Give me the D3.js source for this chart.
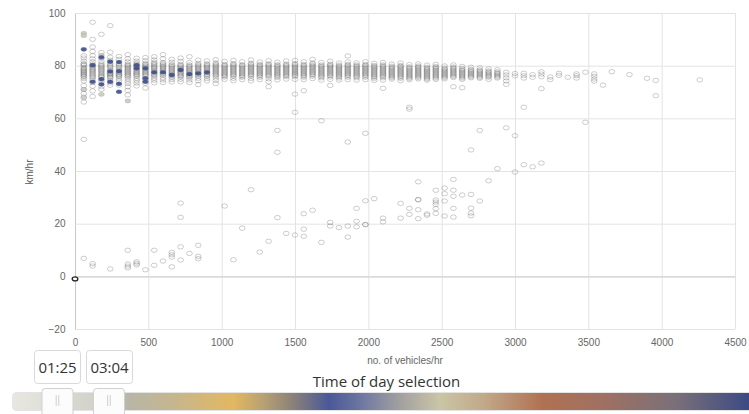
<!DOCTYPE html>
<html>
<head>
<meta charset="utf-8">
<script src="https://cdn.jsdelivr.net/npm/d3@7/dist/d3.min.js"></script>
<style>
  body { margin: 0; background: #fff; }
  svg text { font-family: "Liberation Sans", Arial, sans-serif; }
  .ui { font-family: "Open Sans", "Noto Sans", sans-serif; }
</style>
</head>
<body>
<svg id="chart" width="749" height="414"></svg>
<script>
// DATA: flow (vehicles/hr) columns and the speeds (km/hr) read for each
var bandFlow = [60, 120, 180, 240, 300, 360, 420, 480, 540, 600, 660, 720, 780, 840, 900,
  960, 1020, 1080, 1140, 1200, 1260, 1320, 1380, 1440, 1500, 1560, 1620, 1680, 1740, 1800,
  1860, 1920, 1980, 2040, 2100, 2160, 2220, 2280, 2340, 2400, 2460, 2520, 2580, 2640, 2700,
  2760, 2820, 2880, 2940, 3000, 3060, 3120, 3180, 3240, 3300, 3360, 3420, 3480, 3540, 3600,
  3660, 3780, 3900, 3960, 4260];

var bandSpeeds = [
  [83.8, 82.9, 81.7, 80.8, 80.1, 79.4, 78.6, 77.9, 77.2, 76.5, 75.8, 75.1, 74.2, 72.4, 70.9, 69.4, 67.8, 66.2, 52.0, 6.8],
  [96.5, 90.0, 87.1, 85.4, 83.8, 82.6, 81.5, 80.6, 79.7, 78.8, 78.0, 77.1, 76.2, 75.3, 74.5, 73.6, 72.2, 70.4, 68.3, 4.8, 3.9],
  [91.9, 85.0, 82.8, 81.6, 80.7, 79.8, 78.9, 78.1, 77.2, 76.3, 75.6, 74.7, 73.9, 72.0, 71.0],
  [95.2, 85.1, 83.2, 82.1, 80.3, 79.4, 78.6, 77.0, 76.9, 76.1, 75.3, 74.4, 73.5, 72.6, 2.8],
  [83.5, 82.4, 80.3, 79.4, 78.7, 77.2, 76.5, 75.8, 75.0, 74.2, 72.6],
  [84.2, 82.6, 81.5, 80.6, 79.8, 79.0, 78.2, 77.4, 76.6, 75.8, 75.0, 74.1, 73.2, 72.0, 70.6, 68.9, 9.9, 4.7, 3.9, 3.2],
  [82.8, 81.7, 80.9, 80.0, 79.2, 78.3, 77.5, 76.7, 75.9, 75.1, 74.3, 73.4, 72.3, 5.5, 4.9, 4.3],
  [83.1, 81.9, 80.9, 80.1, 79.3, 78.4, 77.6, 76.8, 76.0, 75.1, 74.3, 73.3, 71.5, 2.5],
  [83.4, 82.2, 81.3, 80.4, 79.5, 78.7, 77.8, 76.9, 76.1, 75.3, 74.5, 73.5, 9.9, 4.2],
  [84.2, 82.6, 81.2, 80.3, 79.5, 78.7, 77.9, 77.1, 76.3, 75.4, 74.6, 73.6, 5.8],
  [82.4, 81.3, 80.4, 79.6, 78.8, 78.0, 77.2, 76.4, 75.5, 74.7, 73.8, 9.1, 8.2, 7.3, 3.6],
  [82.9, 81.6, 80.5, 79.7, 78.9, 78.1, 77.3, 76.5, 75.7, 74.8, 73.9, 27.8, 22.4, 11.2, 6.2],
  [83.4, 81.2, 80.3, 79.5, 78.7, 77.9, 77.1, 76.3, 75.5, 74.6, 73.6, 8.7],
  [82.1, 80.9, 80.0, 79.2, 78.4, 77.6, 76.8, 76.0, 75.2, 74.3, 72.8, 11.8, 7.6, 6.7],
  [81.8, 80.7, 79.9, 79.1, 78.3, 77.5, 76.7, 75.9, 75.1, 74.2],
  [82.3, 81.0, 80.1, 79.3, 78.5, 77.7, 76.9, 76.1, 75.3, 74.4, 73.2],
  [81.6, 80.5, 79.7, 78.9, 78.1, 77.3, 76.5, 75.7, 74.8, 26.7],
  [82.0, 80.8, 80.0, 79.2, 78.4, 77.6, 76.8, 76.0, 75.2, 74.3, 6.3],
  [81.5, 80.4, 79.6, 78.8, 78.0, 77.2, 76.4, 75.6, 74.7, 18.3],
  [82.2, 80.9, 80.0, 79.2, 78.4, 77.6, 76.8, 76.0, 75.1, 74.2, 32.9],
  [81.4, 80.5, 79.7, 78.9, 78.1, 77.3, 76.5, 75.6, 74.7, 9.2],
  [81.9, 80.7, 79.9, 79.1, 78.3, 77.5, 76.7, 75.9, 75.0, 73.9, 72.0, 13.3],
  [81.3, 80.4, 79.6, 78.8, 78.0, 77.2, 76.4, 75.5, 74.6, 55.4, 47.1, 22.3],
  [81.8, 80.6, 79.8, 79.0, 78.2, 77.4, 76.6, 75.8, 74.9, 16.3],
  [82.0, 80.8, 79.9, 79.1, 78.3, 77.5, 76.7, 75.8, 74.8, 69.2, 62.3, 15.7],
  [81.5, 80.5, 79.7, 78.9, 78.1, 77.3, 76.5, 75.6, 74.7, 70.5, 23.8, 17.9, 15.2],
  [82.4, 81.0, 80.1, 79.3, 78.5, 77.7, 76.9, 76.0, 75.1, 25.1],
  [81.2, 80.3, 79.5, 78.7, 77.9, 77.1, 76.3, 75.4, 74.5, 59.1, 12.9],
  [81.7, 80.6, 79.8, 79.0, 78.2, 77.4, 76.6, 75.7, 74.8, 72.5, 20.5, 19.1],
  [81.0, 80.2, 79.4, 78.6, 77.8, 77.0, 76.2, 75.3, 74.5, 18.5],
  [83.7, 81.4, 80.5, 79.7, 78.9, 78.1, 77.3, 76.5, 75.6, 74.7, 51.0, 19.1, 14.9],
  [81.1, 80.3, 79.5, 78.7, 77.9, 77.1, 76.3, 75.4, 74.5, 25.8, 20.9, 18.8],
  [81.5, 80.5, 79.7, 78.9, 78.1, 77.3, 76.5, 75.6, 74.7, 54.3, 28.7, 19.7, 19.6],
  [80.9, 80.1, 79.3, 78.5, 77.7, 76.9, 76.1, 75.2, 74.4, 29.5],
  [81.2, 80.3, 79.5, 78.7, 77.9, 77.1, 76.3, 75.4, 74.5, 71.4, 22.1, 20.7],
  [80.6, 79.8, 79.0, 78.2, 77.4, 76.6, 75.8, 74.9],
  [81.0, 80.1, 79.3, 78.5, 77.7, 76.9, 76.1, 75.2, 74.3, 27.7, 22.1],
  [80.4, 79.6, 78.8, 78.0, 77.2, 76.4, 75.6, 74.7, 64.2, 63.5, 25.8, 23.5],
  [80.7, 79.9, 79.1, 78.3, 77.5, 76.7, 75.9, 75.0, 35.9, 29.2, 29.0, 25.3, 21.9],
  [80.2, 79.4, 78.6, 77.8, 77.0, 76.2, 75.4, 74.5, 23.7, 23.2],
  [80.5, 79.7, 78.9, 78.1, 77.3, 76.5, 75.7, 74.8, 32.7, 29.0, 28.2, 27.3, 25.7, 23.9],
  [79.9, 79.1, 78.3, 77.5, 76.7, 75.9, 75.0, 33.5, 31.4, 28.6, 22.9],
  [80.3, 79.5, 78.7, 77.9, 77.1, 76.3, 75.5, 72.0, 36.8, 32.7, 30.4, 25.8, 22.5],
  [79.7, 78.9, 78.1, 77.3, 76.5, 75.7, 74.8, 71.6, 30.9],
  [79.4, 78.6, 77.8, 77.0, 76.2, 75.4, 48.0, 31.1, 25.9, 24.0, 23.0],
  [79.2, 78.4, 77.6, 76.8, 76.0, 75.2, 55.4, 28.6],
  [78.8, 78.0, 77.2, 76.4, 75.6, 74.8, 36.3],
  [78.5, 77.7, 76.9, 76.1, 75.3, 40.9],
  [77.5, 76.5, 75.4, 74.2, 72.9, 56.4],
  [77.0, 76.1, 53.4, 39.6],
  [77.1, 76.2, 75.3, 64.2, 42.4],
  [76.6, 75.6, 41.6],
  [77.7, 76.8, 75.8, 71.3, 43.0],
  [75.7, 74.7],
  [77.1, 76.3],
  [75.6],
  [76.9, 76.2, 75.3],
  [77.5, 58.5],
  [76.9, 76.0, 74.9, 74.1],
  [72.6],
  [77.7],
  [76.6],
  [75.2],
  [74.4, 68.6],
  [74.6]
];

// repeated readings stacked in the dense core of each column
var coreFlow = [60, 120, 180, 240, 300, 360, 420, 480, 540, 600, 660, 720, 780, 840, 900,
  960, 1020, 1080, 1140, 1200, 1260, 1320, 1380, 1440, 1500, 1560, 1620, 1680, 1740, 1800,
  1860, 1920, 1980, 2040, 2100, 2160, 2220, 2280, 2340, 2400, 2460, 2520, 2580, 2640, 2700,
  2760, 2820, 2880];
var coreSpeeds = [
  [80.4, 79.0, 78.2, 77.5, 76.8, 76.1],
  [80.1, 79.2, 78.4, 77.6, 76.7, 75.8],
  [80.2, 79.4, 78.5, 77.7, 76.8, 75.9],
  [80.8, 79.8, 78.2, 77.4, 76.5, 75.7],
  [80.8, 79.9, 78.2, 77.6, 76.8, 76.1],
  [80.2, 79.4, 78.6, 77.8, 77.0, 76.2],
  [80.4, 79.6, 78.7, 77.9, 77.1, 76.3],
  [80.5, 79.7, 78.8, 78.0, 77.2, 76.4],
  [80.8, 79.9, 79.1, 78.2, 77.4, 76.5],
  [80.7, 79.9, 79.1, 78.3, 77.5, 76.7],
  [80.0, 79.2, 78.4, 77.6, 76.8, 76.0],
  [80.1, 79.3, 78.5, 77.7, 76.9, 76.1],
  [79.9, 79.1, 78.3, 77.5, 76.7, 75.9],
  [80.4, 79.6, 78.8, 78.0, 77.2, 76.4],
  [80.3, 79.5, 78.7, 77.9, 77.1, 76.3],
  [80.5, 79.7, 78.9, 78.1, 77.3, 76.5],
  [80.1, 79.3, 78.5, 77.7, 76.9, 76.1],
  [80.4, 79.6, 78.8, 78.0, 77.2, 76.4],
  [80.0, 79.2, 78.4, 77.6, 76.8, 76.0],
  [80.5, 79.6, 78.8, 78.0, 77.2, 76.4],
  [80.1, 79.3, 78.5, 77.7, 76.9, 76.1],
  [80.3, 79.5, 78.7, 77.9, 77.1, 76.3],
  [80.0, 79.2, 78.4, 77.6, 76.8, 76.0],
  [80.2, 79.4, 78.6, 77.8, 77.0, 76.2],
  [80.4, 79.5, 78.7, 77.9, 77.1, 76.3],
  [80.1, 79.3, 78.5, 77.7, 76.9, 76.1],
  [80.6, 79.7, 78.9, 78.1, 77.3, 76.5],
  [79.9, 79.1, 78.3, 77.5, 76.7, 75.9],
  [80.2, 79.4, 78.6, 77.8, 77.0, 76.2],
  [79.8, 79.0, 78.2, 77.4, 76.6, 75.8],
  [80.1, 79.3, 78.5, 77.7, 76.9, 76.1],
  [79.9, 79.1, 78.3, 77.5, 76.7, 75.9],
  [80.1, 79.3, 78.5, 77.7, 76.9, 76.1],
  [79.7, 78.9, 78.1, 77.3, 76.5, 75.7],
  [79.9, 79.1, 78.3, 77.5, 76.7, 75.9],
  [79.4, 78.6, 77.8, 77.0, 76.2, 75.4],
  [79.7, 78.9, 78.1, 77.3, 76.5, 75.7],
  [79.2, 78.4, 77.6, 76.8, 76.0, 75.2],
  [79.5, 78.7, 77.9, 77.1, 76.3, 75.5],
  [79.0, 78.2, 77.4, 76.6, 75.8, 75.0],
  [79.3, 78.5, 77.7, 76.9, 76.1, 75.3],
  [78.7, 77.9, 77.1, 76.3, 75.5],
  [79.1, 78.3, 77.5, 76.7, 75.9],
  [78.5, 77.7, 76.9, 76.1, 75.3],
  [78.2, 77.4, 76.6, 75.8],
  [78.0, 77.2, 76.4, 75.6],
  [77.6, 76.8, 76.0],
  [77.3, 76.5, 75.7]
];

// points inside the selected time window
var selBlueFlow = [60, 120, 120, 180, 180, 180, 240, 240, 240, 300, 300, 300, 300, 420, 420,
  480, 480, 480, 540, 600, 660, 720, 780, 840, 900];
var selBlueSpeed = [86.2, 80.2, 73.9, 83.2, 74.9, 72.9, 81.5, 77.8, 73.9, 81.4, 77.9, 73.1, 70.1, 80.2, 79.0,
  79.0, 75.2, 73.9, 77.5, 77.5, 76.5, 78.4, 76.8, 77.1, 77.5];
var selGrayFlow = [60, 60, 60, 60, 180, 180, 360];
var selGraySpeed = [92.3, 91.4, 71.0, 68.2, 84.0, 69.1, 66.6];

var currentFlow = [0];
var currentSpeed = [-1];

var xTicks = [0, 500, 1000, 1500, 2000, 2500, 3000, 3500, 4000, 4500];
var yTicks = [-20, 0, 20, 40, 60, 80, 100];
var timeLabels = ["01:25", "03:04"];
var timeMinutes = [85, 184];

var margin = { top: 13, right: 14, bottom: 85, left: 75 };
var svgWidth = 749, svgHeight = 414;
var width = svgWidth - margin.left - margin.right;
var height = svgHeight - margin.top - margin.bottom;

var svg = d3.select("#chart");
var chartGroup = svg.append("g")
  .attr("transform", `translate(${margin.left}, ${margin.top})`);

var xScale = d3.scaleLinear().domain([0, 4500]).range([0, width]);
var yScale = d3.scaleLinear().domain([-20, 100]).range([height, 0]);

// grid + axes
var xAxis = chartGroup.append("g")
  .attr("transform", `translate(0, ${height})`)
  .call(d3.axisBottom(xScale).tickValues(xTicks).tickFormat(d3.format("d"))
    .tickSizeInner(-height).tickSizeOuter(0).tickPadding(9.5));
var yAxis = chartGroup.append("g")
  .call(d3.axisLeft(yScale).tickValues(yTicks).tickFormat(d3.format("d"))
    .tickSizeInner(-width).tickSizeOuter(0).tickPadding(9.5));

[xAxis, yAxis].forEach(function(ax) {
  ax.select(".domain").remove();
  ax.selectAll(".tick line").attr("stroke", "#e3e3e3");
  ax.selectAll(".tick text").attr("fill", "#666").style("font-size", "10px");
});
yAxis.selectAll(".tick").filter(d => d === 0).select("line")
  .attr("stroke", "#dadada").attr("stroke-width", 1.6);
xAxis.selectAll(".tick").filter(d => d === 0).select("line")
  .attr("stroke", "#c8c8c8");

// axis labels
chartGroup.append("text")
  .attr("transform", "rotate(-90)")
  .attr("x", -height / 2 - 1)
  .attr("y", -42)
  .attr("text-anchor", "middle")
  .attr("fill", "#555")
  .style("font-size", "10px")
  .text("km/hr");

chartGroup.append("text")
  .attr("x", width / 2)
  .attr("y", height + 34.5)
  .attr("text-anchor", "middle")
  .attr("fill", "#666")
  .style("font-size", "10px")
  .text("no. of vehicles/hr");

// open circles for all readings
var allPoints = [];
bandFlow.forEach(function(f, i) {
  bandSpeeds[i].forEach(function(s) { allPoints.push({ flow: f, speed: s }); });
});
coreFlow.forEach(function(f, i) {
  coreSpeeds[i].forEach(function(s) { allPoints.push({ flow: f, speed: s }); });
});

chartGroup.selectAll(".pt")
  .data(allPoints)
  .enter()
  .append("ellipse")
  .attr("class", "pt")
  .attr("cx", d => xScale(d.flow))
  .attr("cy", d => yScale(d.speed))
  .attr("rx", 2.9)
  .attr("ry", 2.2)
  .attr("fill", "none")
  .attr("stroke", "#4a4a4a")
  .attr("stroke-opacity", 0.3)
  .attr("stroke-width", 0.9);

// selected (filled)
function filled(flows, speeds, color) {
  chartGroup.selectAll(null)
    .data(flows.map((f, i) => ({ flow: f, speed: speeds[i] })))
    .enter()
    .append("ellipse")
    .attr("cx", d => xScale(d.flow))
    .attr("cy", d => yScale(d.speed))
    .attr("rx", 2.9)
    .attr("ry", 2.1)
    .attr("fill", color)
    .attr("fill-opacity", 0.9)
    .attr("stroke", "#888")
    .attr("stroke-opacity", 0.35)
    .attr("stroke-width", 0.6);
}
filled(selGrayFlow, selGraySpeed, "#c9c9bf");
filled(selBlueFlow, selBlueSpeed, "#3b4c8e");

chartGroup.selectAll(null)
  .data(currentFlow.map((f, i) => ({ flow: f, speed: currentSpeed[i] })))
  .enter()
  .append("ellipse")
  .attr("cx", d => xScale(d.flow))
  .attr("cy", d => yScale(d.speed))
  .attr("rx", 2.8)
  .attr("ry", 2.0)
  .attr("fill", "#fff")
  .attr("stroke", "#222")
  .attr("stroke-width", 1.3);

// time of day slider
var tScale = d3.scaleLinear().domain([0, 1440]).range([13.3, 762]);

var defs = svg.append("defs");
var grad = defs.append("linearGradient")
  .attr("id", "dayGrad")
  .attr("gradientUnits", "userSpaceOnUse")
  .attr("x1", 12).attr("x2", 749).attr("y1", 0).attr("y2", 0);
[[0, "#e8e8e0"], [0.11, "#d2d2ca"], [0.16, "#b8b5a6"], [0.22, "#c6b68e"], [0.3, "#e2b860"],
 [0.34, "#b9a172"], [0.38, "#8c8279"], [0.43, "#4a5898"], [0.47, "#6a74a0"], [0.52, "#9c9ca0"],
 [0.58, "#cac5a6"], [0.64, "#c1a98a"], [0.72, "#b07152"], [0.8, "#a07062"], [0.9, "#7a7079"],
 [1, "#3c4a84"]].forEach(function(s) {
  grad.append("stop").attr("offset", s[0]).attr("stop-color", s[1]);
});

svg.append("rect")
  .attr("x", 12.5).attr("y", 392.5)
  .attr("width", 760).attr("height", 18)
  .attr("rx", 4)
  .attr("fill", "url(#dayGrad)")
  .attr("stroke", "#e4e4e4")
  .attr("stroke-width", 1);

svg.append("text")
  .attr("class", "ui")
  .attr("x", 386.5)
  .attr("y", 387)
  .attr("text-anchor", "middle")
  .attr("fill", "#333")
  .style("font-size", "15px")
  .text("Time of day selection");

timeMinutes.forEach(function(m, i) {
  var cx = tScale(m);
  var h = svg.append("g");
  h.append("rect")
    .attr("x", cx - 15.5).attr("y", 388.5)
    .attr("width", 31).attr("height", 30)
    .attr("rx", 3)
    .attr("fill", "#fcfcfc")
    .attr("stroke", "#d0d0d0");
  [-1.3, 1.3].forEach(function(dx) {
    h.append("line")
      .attr("x1", cx + dx).attr("x2", cx + dx)
      .attr("y1", 395).attr("y2", 406)
      .attr("stroke", "#cfcfcf");
  });

  var b = svg.append("g");
  b.append("rect")
    .attr("x", 34.5 + i * 52).attr("y", 350.5)
    .attr("width", 46).attr("height", 33)
    .attr("rx", 3)
    .attr("fill", "#fff")
    .attr("stroke", "#d9d9d9");
  b.append("text")
    .attr("class", "ui")
    .attr("x", 57.5 + i * 52)
    .attr("y", 373.3)
    .attr("text-anchor", "middle")
    .attr("fill", "#333")
    .style("font-size", "15px")
    .text(timeLabels[i]);
});
</script>
</body>
</html>
